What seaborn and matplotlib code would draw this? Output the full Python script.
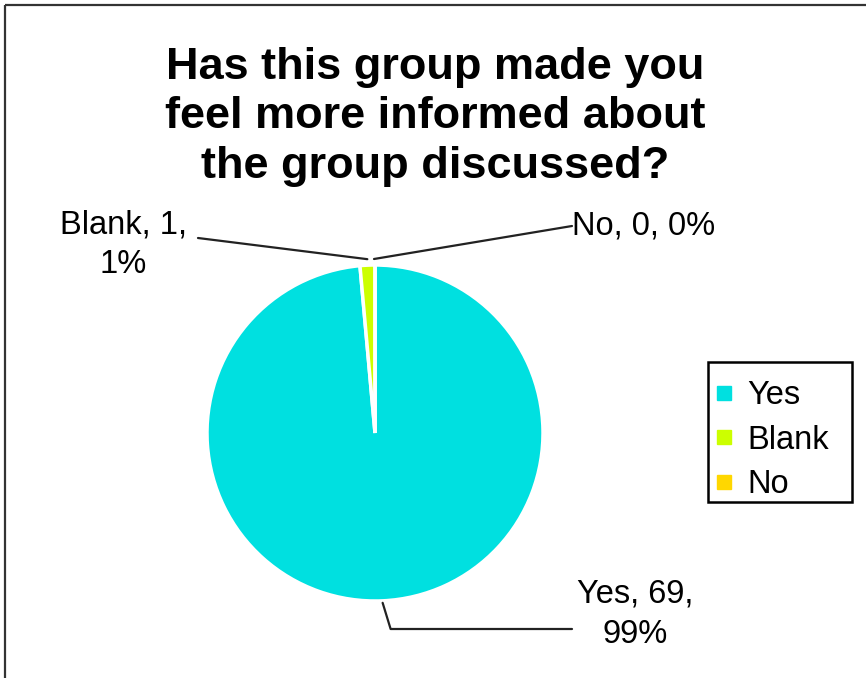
import numpy as np
import matplotlib
matplotlib.use("Agg")
import matplotlib.pyplot as plt
from matplotlib.patches import Rectangle
from matplotlib.lines import Line2D
import seaborn as sns

categories = ["Yes", "Blank", "No"]
counts = [69, 1, 0]
colors = ["#00E0E0", "#CCFF00", "#FFD700"]
title = "Has this group made you\nfeel more informed about\nthe group discussed?"

sns.set_theme(style="white")
plt.rcParams["font.family"] = ["Liberation Sans", "DejaVu Sans"]
plt.rcParams["text.color"] = "black"

W, H = 866, 678
fig = plt.figure(figsize=(W / 100, H / 100), dpi=100)
ax = fig.add_axes([0, 0, 1, 1])

cx, cy, R = 375, 433, 168
# y axis is inverted below, so data angles are mirrored: start at -90 and go
# counter-clockwise in data space to appear clockwise from 12 o'clock.
wedges, _ = ax.pie(counts, colors=colors, startangle=-90, counterclock=True,
                   center=(cx, cy), radius=R,
                   wedgeprops=dict(edgecolor="white", linewidth=2.5), frame=True)
ax.set_xlim(0, W)
ax.set_ylim(H, 0)
ax.set_aspect("equal")
ax.axis("off")

# outer frame
ax.add_patch(Rectangle((5, 5), W + 20, H + 20, fill=False, edgecolor="#333333", lw=1.6))

ax.text(435, 117, title, ha="center", va="center", fontsize=32.5, fontweight="bold",
        color="black", linespacing=1.26)

total = sum(counts)
def anchor(w, r_extra=3):
    a = np.deg2rad((w.theta1 + w.theta2) / 2)
    return cx + (R + r_extra) * np.cos(a), cy + (R + r_extra) * np.sin(a)

lbl_fs = 23.5
line_kw = dict(color="#222222", lw=1.6)

# Blank
bx, by = anchor(wedges[1])
ax.plot([bx, 198], [by - 3, 238], **line_kw)
ax.text(123, 245, f"{categories[1]}, {counts[1]},\n{counts[1]/total:.0%}", ha="center",
        va="center", fontsize=lbl_fs, linespacing=1.35)

# No
nx, ny = anchor(wedges[2])
ax.plot([nx - 1, 572], [ny - 3, 226], **line_kw)
ax.text(572, 226, f"{categories[2]}, {counts[2]}, {counts[2]/total:.0%}", ha="left",
        va="center", fontsize=lbl_fs)

# Yes
yx, yy = anchor(wedges[0], 2)
ax.plot([yx, yx + 8, 572], [yy, 629, 629], **line_kw)
ax.text(635, 614, f"{categories[0]}, {counts[0]},\n{counts[0]/total:.0%}", ha="center",
        va="center", fontsize=lbl_fs, linespacing=1.38)

# legend box
ax.add_patch(Rectangle((708, 362), 144, 140, fill=False, edgecolor="black", lw=1.8))
handles = [Line2D([0], [0], marker="s", linestyle="none", markersize=9.5,
                  markerfacecolor=c, markeredgecolor=c) for c in colors]
leg = ax.legend(handles, categories, loc="upper left",
                bbox_to_anchor=(716 / W, 1 - 380 / H), bbox_transform=fig.transFigure,
                fontsize=lbl_fs, frameon=False,
                handlelength=0.5, handletextpad=0.45, labelspacing=0.42,
                borderpad=0, borderaxespad=0)

fig.savefig("out.png", dpi=100, facecolor="white")
